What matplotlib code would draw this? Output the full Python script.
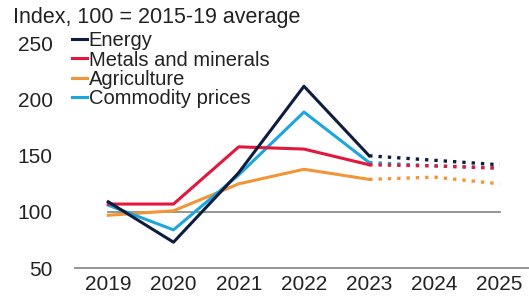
import matplotlib
matplotlib.use('Agg')
import matplotlib.pyplot as plt
from matplotlib.lines import Line2D

plt.rcParams['font.family'] = ['Liberation Sans', 'DejaVu Sans']

# data
years = [2019, 2020, 2021, 2022, 2023, 2024, 2025]
energy = [109, 73, 135, 212, 150, 146, 142]
metals = [107, 107, 158, 156, 142, 141, 139]
agriculture = [97, 101, 125, 138, 129, 131, 125]
commodity = [106, 84, 133, 189, 144, 141, 139]
ticks_y = [50, 100, 150, 200, 250]

series = [
	('Energy', energy, '#0e1c3f'),
	('Metals and minerals', metals, '#e3163c'),
	('Agriculture', agriculture, '#f29537'),
	('Commodity prices', commodity, '#1ba7de'),
]

fig = plt.figure(figsize=(5.29, 3.0), dpi=100)
ax = fig.add_axes([75 / 529, 1 - 268 / 300, 454 / 529, 230 / 300])

# reference line at 100
ax.plot([years[0], years[-1]], [100, 100], color='#8c8c8c', lw=1.3, zorder=1)

n_hist = 5  # 2019-2023 actual, 2024-2025 forecast
zs = {0: 3.4, 1: 3.3, 2: 3.1, 3: 3.2}
for i, (name, vals, col) in enumerate(series):
	ax.plot(years[:n_hist], vals[:n_hist], color=col, lw=2.2, zorder=zs[i])
	ax.plot(years[n_hist - 1:], vals[n_hist - 1:], color=col, lw=2.4,
	        linestyle=(0, (1, 1.8)), zorder=zs[i])

ax.set_xlim(2018.49, 2025.45)
ax.set_ylim(50, 255)
ax.set_yticks(ticks_y)
ax.set_xticks(years)
ax.tick_params(length=0, labelsize=15, colors='#222222', pad=5)
ax.tick_params(axis='y', pad=16)
for s in ['top', 'right', 'left']:
	ax.spines[s].set_visible(False)
ax.spines['bottom'].set_color('#8c8c8c')
ax.spines['bottom'].set_linewidth(1.3)

fig.text(13 / 529, 1 - 18 / 300, 'Index, 100 = 2015-19 average', fontsize=15.5,
         color='#222222', va='center', ha='left')

handles = [Line2D([], [], color=c, lw=2.2) for _, _, c in series]
labels = [n for n, _, _ in series]
leg = ax.legend(handles, labels, loc='upper left', bbox_to_anchor=(-0.025, 1.065),
                frameon=False, fontsize=14.5, handlelength=0.75, handletextpad=0.1,
                labelspacing=0.02, borderaxespad=0)
for t in leg.get_texts():
	t.set_color('#222222')

fig.savefig('out.png', dpi=100)
